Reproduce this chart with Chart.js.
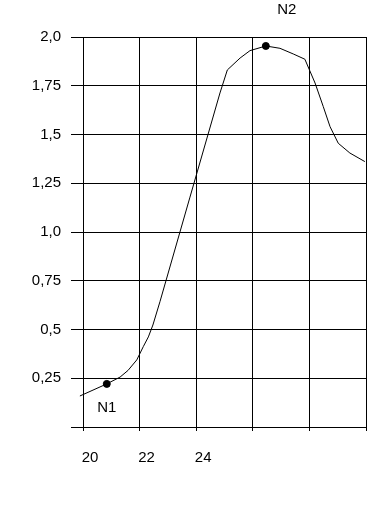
<!DOCTYPE html>
<html>
<head>
<meta charset="utf-8">
<script src="https://cdn.jsdelivr.net/npm/chart.js@4"></script>
<style>
  html, body { margin: 0; padding: 0; background: #fff; }
  #wrap { width: 392px; height: 507px; }
</style>
</head>
<body>
<div id="wrap"><canvas id="curve-plot"></canvas></div>
<script>
var curveX = [19.89, 20.84, 21.31, 21.59, 21.90, 22.13, 22.31, 22.47, 22.72, 23.78, 24.84, 25.10, 25.55, 25.90, 26.46, 26.96, 27.43, 27.84, 28.20, 28.49, 28.73, 29.02, 29.43, 29.96];
var curveY = [0.159, 0.221, 0.256, 0.290, 0.344, 0.412, 0.462, 0.523, 0.643, 1.179, 1.713, 1.831, 1.892, 1.930, 1.954, 1.942, 1.913, 1.886, 1.764, 1.643, 1.540, 1.455, 1.405, 1.361];
var markNames = ['N1', 'N2'];
var markX = [20.84, 26.46];
var markY = [0.221, 1.954];
var xTickLabels = ['20', '22', '24', '', '', ''];
var yTickLabels = ['', '0,25', '0,5', '0,75', '1,0', '1,25', '1,5', '1,75', '2,0'];

var font = '"Liberation Sans", Arial, sans-serif';

var markLabels = {
  id: 'markLabels',
  afterDatasetsDraw: function (chart) {
    var ctx = chart.ctx, xs = chart.scales.x, ys = chart.scales.y;
    ctx.save();
    ctx.font = '15px ' + font;
    ctx.fillStyle = '#000';
    ctx.textAlign = 'center';
    ctx.textBaseline = 'middle';
    // N1 sits below its dot, N2 above and to the right
    ctx.fillText(markNames[0], xs.getPixelForValue(markX[0]), ys.getPixelForValue(markY[0]) + 24);
    ctx.fillText(markNames[1], xs.getPixelForValue(markX[1]) + 21, ys.getPixelForValue(markY[1]) - 36);
    ctx.restore();
  }
};

var chrt = document.getElementById('curve-plot').getContext('2d');
var chartId = new Chart(chrt, {
  type: 'line',
  data: {
    datasets: [{
      data: curveX.map(function (x, i) { return { x: x, y: curveY[i] }; }),
      borderColor: '#000',
      borderWidth: 1,
      pointRadius: 0,
      tension: 0,
      clip: false
    }, {
      data: markX.map(function (x, i) { return { x: x, y: markY[i] }; }),
      showLine: false,
      pointRadius: 3.5,
      pointBackgroundColor: '#000',
      pointBorderColor: '#000',
      clip: false
    }]
  },
  options: {
    responsive: true,
    maintainAspectRatio: false,
    animation: false,
    layout: { padding: { top: 37, right: 26, bottom: 0, left: 0 } },
    plugins: { legend: { display: false }, tooltip: { enabled: false } },
    scales: {
      x: {
        type: 'linear',
        min: 20,
        max: 30,
        afterFit: function (s) { s.height = 80; },
        ticks: {
          stepSize: 2,
          padding: 18,
          labelOffset: 7,
          color: '#000',
          font: { size: 15, family: font },
          maxRotation: 0,
          callback: function (v) { return xTickLabels[(v - 20) / 2]; }
        },
        grid: { color: '#000', lineWidth: 1, tickLength: 4 },
        border: { color: '#000', width: 1 }
      },
      y: {
        min: 0,
        max: 2,
        afterFit: function (s) { s.width = 83; },
        ticks: {
          stepSize: 0.25,
          padding: 10,
          color: '#000',
          font: { size: 15, family: font },
          callback: function (v) { return yTickLabels[Math.round(v / 0.25)]; }
        },
        grid: { color: '#000', lineWidth: 1, tickLength: 12 },
        border: { color: '#000', width: 1 }
      }
    }
  },
  plugins: [markLabels]
});
</script>
</body>
</html>
